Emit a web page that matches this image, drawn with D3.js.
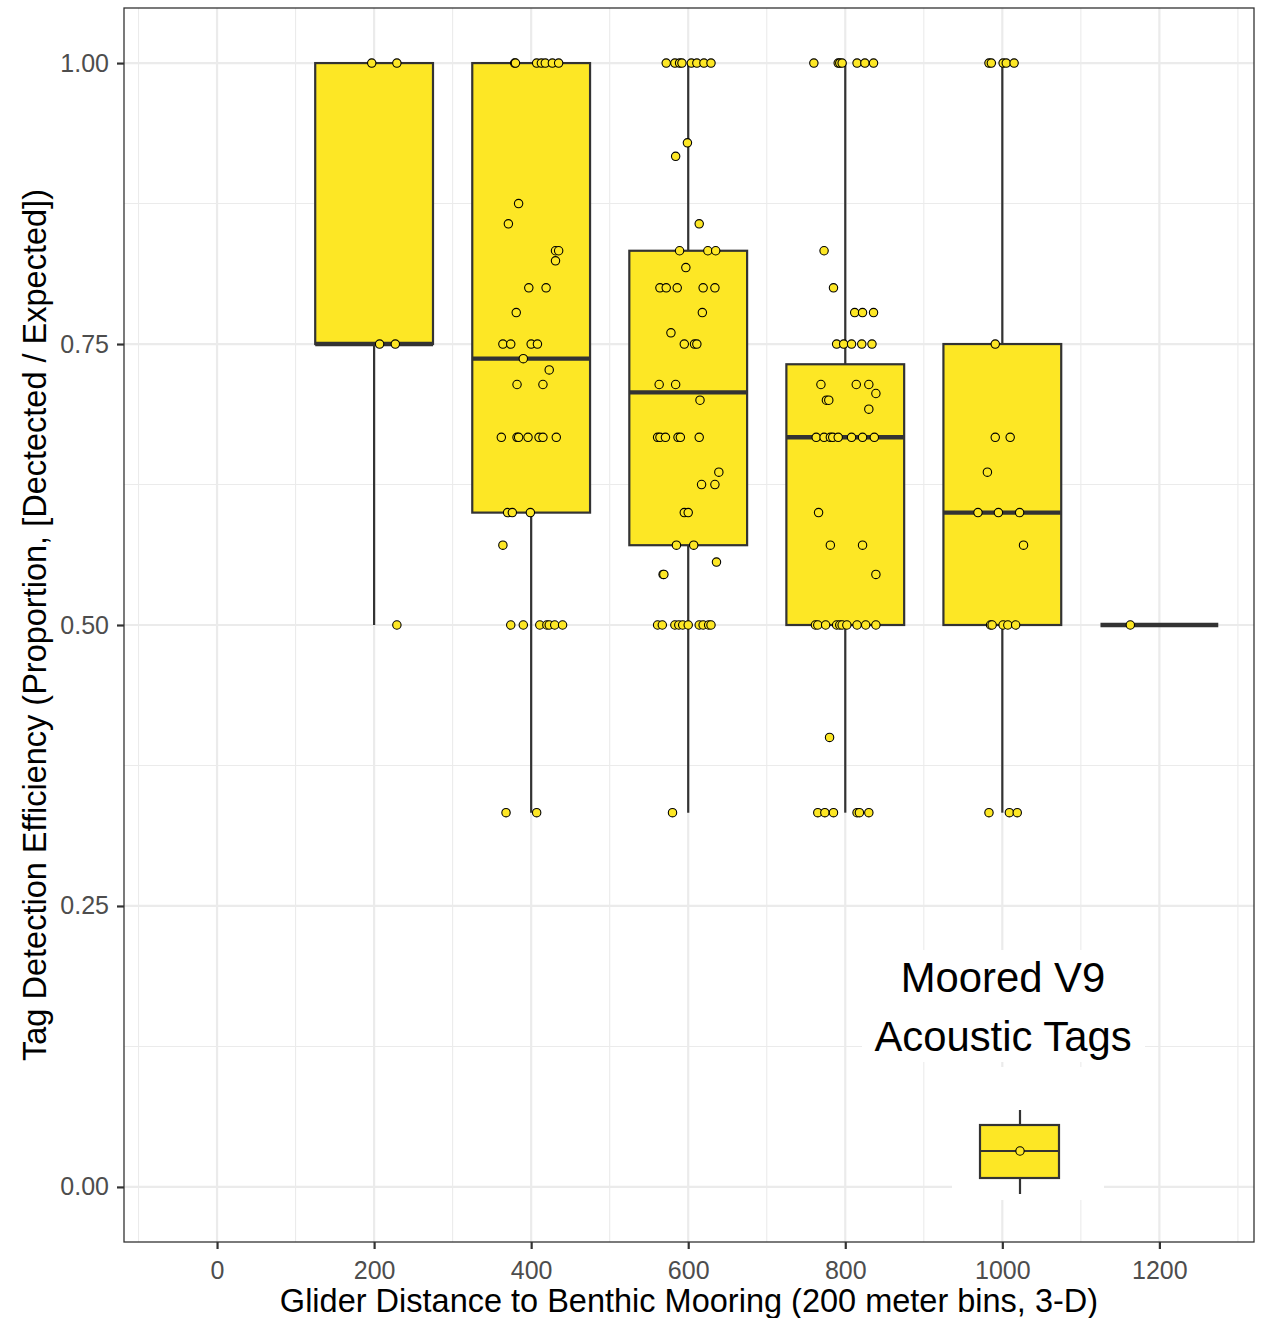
<!DOCTYPE html>
<html>
<head>
<meta charset="utf-8">
<script src="https://cdn.jsdelivr.net/npm/d3@7"></script>
<style>
  body { margin: 0; background: #fff; }
  svg { display: block; font-family: "Liberation Sans", Arial, sans-serif; }
</style>
</head>
<body>
<script>
/* bins of glider distance (m) and box statistics */
var bins = [200, 400, 600, 800, 1000, 1200];
var q1 = [0.75, 0.6, 0.571, 0.5, 0.5, 0.5];
var medians = [0.75, 0.737, 0.707, 0.667, 0.6, 0.5];
var q3 = [1.0, 1.0, 0.833, 0.732, 0.75, 0.5];
var whiskerLow = [0.5, 0.333, 0.333, 0.333, 0.333, 0.5];
var whiskerHigh = [1.0, 1.0, 1.0, 1.0, 1.0, 0.5];

/* jittered points: [distance, efficiency] */
var pts200 = [[197, 1], [229, 1], [207, 0.75], [227, 0.75], [229, 0.5]];
var pts400 = [
  [379, 1], [380, 1], [407, 1], [413, 1], [418, 1], [427, 1], [435, 1],
  [384, 0.875], [371, 0.857], [431, 0.833], [435, 0.833], [431, 0.824],
  [397, 0.8], [419, 0.8], [381, 0.778],
  [364, 0.75], [374, 0.75], [400, 0.75], [408, 0.75],
  [390, 0.737], [423, 0.727], [382, 0.714], [415, 0.714],
  [362, 0.667], [382, 0.667], [384, 0.667], [396, 0.667], [410, 0.667], [415, 0.667], [432, 0.667],
  [370, 0.6], [376, 0.6], [399, 0.6], [364, 0.571],
  [374, 0.5], [390, 0.5], [411, 0.5], [420, 0.5], [423, 0.5], [430, 0.5], [440, 0.5],
  [368, 0.333], [407, 0.333]
];
var pts600 = [
  [572, 1], [583, 1], [589, 1], [592, 1], [604, 1], [611, 1], [620, 1], [629, 1],
  [599, 0.929], [584, 0.917], [614, 0.857],
  [589, 0.833], [625, 0.833], [635, 0.833], [597, 0.818],
  [564, 0.8], [572, 0.8], [586, 0.8], [619, 0.8], [634, 0.8],
  [618, 0.778], [578, 0.76], [595, 0.75], [608, 0.75], [611, 0.75],
  [563, 0.714], [584, 0.714], [615, 0.7],
  [561, 0.667], [564, 0.667], [571, 0.667], [587, 0.667], [590, 0.667], [614, 0.667],
  [639, 0.636], [617, 0.625], [634, 0.625], [595, 0.6], [600, 0.6],
  [585, 0.571], [607, 0.571], [636, 0.556], [568, 0.545], [569, 0.545],
  [561, 0.5], [567, 0.5], [583, 0.5], [588, 0.5], [593, 0.5], [600, 0.5], [614, 0.5], [619, 0.5], [626, 0.5], [629, 0.5],
  [580, 0.333]
];
var pts800 = [
  [760, 1], [791, 1], [793, 1], [796, 1], [815, 1], [825, 1], [836, 1],
  [773, 0.833], [785, 0.8], [812, 0.778], [822, 0.778], [836, 0.778],
  [789, 0.75], [798, 0.75], [808, 0.75], [821, 0.75], [834, 0.75],
  [769, 0.714], [814, 0.714], [830, 0.714], [839, 0.706],
  [776, 0.7], [779, 0.7], [830, 0.692],
  [763, 0.667], [773, 0.667], [781, 0.667], [784, 0.667], [791, 0.667], [808, 0.667], [822, 0.667], [837, 0.667],
  [766, 0.6], [781, 0.571], [822, 0.571], [839, 0.545],
  [762, 0.5], [765, 0.5], [775, 0.5], [789, 0.5], [793, 0.5], [796, 0.5], [802, 0.5], [815, 0.5], [826, 0.5], [839, 0.5],
  [780, 0.4],
  [765, 0.333], [774, 0.333], [785, 0.333], [815, 0.333], [818, 0.333], [830, 0.333]
];
var pts1000 = [
  [983, 1], [986, 1], [1001, 1], [1005, 1], [1015, 1],
  [991, 0.75], [991, 0.667], [1010, 0.667], [981, 0.636],
  [969, 0.6], [995, 0.6], [1022, 0.6], [1027, 0.571],
  [985, 0.5], [987, 0.5], [1001, 0.5], [1007, 0.5], [1017, 0.5],
  [983, 0.333], [1009, 0.333], [1019, 0.333]
];
var pts1200 = [[1163, 0.5]];

var xTicks = [0, 200, 400, 600, 800, 1000, 1200];
var xMinor = [-100, 100, 300, 500, 700, 900, 1100, 1300];
var yTicks = [0, 0.25, 0.5, 0.75, 1.0];
var yMinor = [0.125, 0.375, 0.625, 0.875];

var fillColor = "#FDE725", lineColor = "#333333";

/* panel placement */
var margin = {top: 8, right: 11, bottom: 76, left: 124},
    W = 1265, H = 1318,
    width = W - margin.left - margin.right,
    height = H - margin.top - margin.bottom;

var svg = d3.select("body").append("svg")
    .attr("width", W)
    .attr("height", H);

var g = svg.append("g")
    .attr("transform", "translate(" + margin.left + "," + margin.top + ")");

var x = d3.scaleLinear().domain([-118.5, 1320.5]).range([0, width]);
var y = d3.scaleLinear().domain([-0.049, 1.049]).range([height, 0]);

g.append("rect").attr("width", width).attr("height", height).attr("fill", "#fff");

/* grid lines */
g.selectAll(".xminor").data(xMinor).enter().append("line")
    .attr("x1", d => x(d)).attr("x2", d => x(d))
    .attr("y1", 0).attr("y2", height)
    .attr("stroke", "#EBEBEB").attr("stroke-width", 1.1);
g.selectAll(".yminor").data(yMinor).enter().append("line")
    .attr("x1", 0).attr("x2", width)
    .attr("y1", d => y(d)).attr("y2", d => y(d))
    .attr("stroke", "#EBEBEB").attr("stroke-width", 1.1);
g.selectAll(".xmajor").data(xTicks).enter().append("line")
    .attr("x1", d => x(d)).attr("x2", d => x(d))
    .attr("y1", 0).attr("y2", height)
    .attr("stroke", "#EBEBEB").attr("stroke-width", 2.2);
g.selectAll(".ymajor").data(yTicks).enter().append("line")
    .attr("x1", 0).attr("x2", width)
    .attr("y1", d => y(d)).attr("y2", d => y(d))
    .attr("stroke", "#EBEBEB").attr("stroke-width", 2.2);

/* boxplots */
var boxes = bins.map(function(b, i) {
  return {bin: b, q1: q1[i], med: medians[i], q3: q3[i], lo: whiskerLow[i], hi: whiskerHigh[i]};
});
var halfW = 75;

var box = g.selectAll(".box").data(boxes).enter().append("g").attr("class", "box");
box.append("line")
    .attr("x1", d => x(d.bin)).attr("x2", d => x(d.bin))
    .attr("y1", d => y(d.q3)).attr("y2", d => y(d.hi))
    .attr("stroke", lineColor).attr("stroke-width", 2.2);
box.append("line")
    .attr("x1", d => x(d.bin)).attr("x2", d => x(d.bin))
    .attr("y1", d => y(d.q1)).attr("y2", d => y(d.lo))
    .attr("stroke", lineColor).attr("stroke-width", 2.2);
box.append("rect")
    .attr("x", d => x(d.bin - halfW))
    .attr("width", d => x(d.bin + halfW) - x(d.bin - halfW))
    .attr("y", d => y(d.q3))
    .attr("height", d => y(d.q1) - y(d.q3))
    .attr("fill", fillColor)
    .attr("stroke", lineColor).attr("stroke-width", 2.2);
box.append("line")
    .attr("x1", d => x(d.bin - halfW)).attr("x2", d => x(d.bin + halfW))
    .attr("y1", d => y(d.med)).attr("y2", d => y(d.med))
    .attr("stroke", lineColor).attr("stroke-width", 4.4);

/* jittered points */
var allPts = [].concat(pts200, pts400, pts600, pts800, pts1000, pts1200);
g.selectAll(".pt").data(allPts).enter().append("circle")
    .attr("cx", d => x(d[0])).attr("cy", d => y(d[1]))
    .attr("r", 4.2)
    .attr("fill", fillColor)
    .attr("stroke", "#000").attr("stroke-width", 1.1);

/* legend inside panel */
var leg = svg.append("g");
leg.append("rect").attr("x", 862).attr("y", 950).attr("width", 283).attr("height", 112).attr("fill", "#fff");
leg.append("rect").attr("x", 952).attr("y", 1067).attr("width", 152).attr("height", 133).attr("fill", "#fff");
leg.append("text").attr("x", 1003).attr("y", 992).attr("text-anchor", "middle")
    .style("font-size", "41.8px").attr("fill", "#000").text("Moored V9");
leg.append("text").attr("x", 1003).attr("y", 1051).attr("text-anchor", "middle")
    .style("font-size", "41.8px").attr("fill", "#000").text("Acoustic Tags");
leg.append("line").attr("x1", 1020).attr("x2", 1020).attr("y1", 1110).attr("y2", 1194)
    .attr("stroke", lineColor).attr("stroke-width", 2.2);
leg.append("rect").attr("x", 980).attr("y", 1125).attr("width", 79).attr("height", 53)
    .attr("fill", fillColor).attr("stroke", lineColor).attr("stroke-width", 2.2);
leg.append("line").attr("x1", 980).attr("x2", 1059).attr("y1", 1151).attr("y2", 1151)
    .attr("stroke", lineColor).attr("stroke-width", 2.2);
leg.append("circle").attr("cx", 1020).attr("cy", 1151).attr("r", 4.2)
    .attr("fill", fillColor).attr("stroke", "#000").attr("stroke-width", 1.1);

/* panel border */
g.append("rect").attr("width", width).attr("height", height)
    .attr("fill", "none").attr("stroke", "#333333").attr("stroke-width", 1.3);

/* axes */
var xAxis = d3.axisBottom(x).tickValues(xTicks).tickSize(7).tickPadding(12)
    .tickFormat(d3.format("d"));
var yAxis = d3.axisLeft(y).tickValues(yTicks).tickSize(7).tickPadding(8)
    .tickFormat(d3.format(".2f"));

var gx = g.append("g").attr("transform", "translate(0," + height + ")").call(xAxis);
var gy = g.append("g").call(yAxis);
[gx, gy].forEach(function(a) {
  a.select(".domain").remove();
  a.selectAll(".tick line").attr("stroke", "#333333").attr("stroke-width", 2.2);
  a.selectAll(".tick text").attr("fill", "#4D4D4D")
      .style("font-size", "25px").style("font-family", "'Liberation Sans', Arial, sans-serif");
});

/* axis titles */
svg.append("text")
    .attr("x", margin.left + width / 2).attr("y", 1312)
    .attr("text-anchor", "middle")
    .style("font-size", "32.5px").attr("fill", "#000")
    .text("Glider Distance to Benthic Mooring (200 meter bins, 3-D)");

svg.append("text")
    .attr("transform", "translate(46," + (margin.top + height / 2) + ") rotate(-90)")
    .attr("text-anchor", "middle")
    .style("font-size", "32.5px").attr("fill", "#000")
    .text("Tag Detection Efficiency (Proportion, [Dectected / Expected])");
</script>
</body>
</html>
